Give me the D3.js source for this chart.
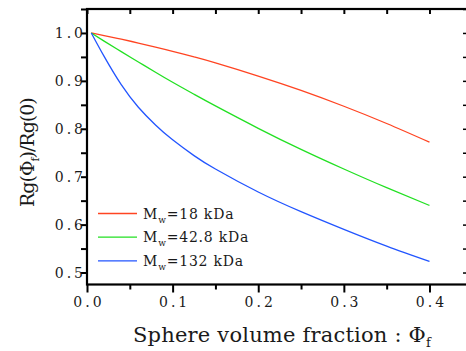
<!DOCTYPE html>
<html lang="en">
<head>
<meta charset="UTF-8">
<title>Rg ratio</title>
<style>
    body { margin: 0; background: #fff; }
    text { font-family: "DejaVu Serif", serif; fill: #1a1a1a; }
</style>
</head>
<body>
<div class="canvas"></div>
<script src="https://cdn.jsdelivr.net/npm/d3@7"></script>
<script>
    // values
    const phi = [0.005, 0.02, 0.04, 0.06, 0.08, 0.1, 0.125, 0.15, 0.2, 0.25, 0.3, 0.35, 0.4];
    const rg18 = [1.0, 0.9945, 0.987, 0.979, 0.9706, 0.9618, 0.950, 0.9375, 0.910, 0.880, 0.847, 0.811, 0.772];
    const rg42 = [1.0, 0.983, 0.961, 0.9395, 0.918, 0.897, 0.872, 0.8477, 0.801, 0.757, 0.716, 0.677, 0.640];
    const rg132 = [1.0, 0.951, 0.892, 0.845, 0.808, 0.777, 0.744, 0.716, 0.668, 0.627, 0.590, 0.555, 0.523];
    const seriesNames = ["18 kDa", "42.8 kDa", "132 kDa"];
    const seriesColors = ["#ff4422", "#22e022", "#2255ff"];
    const xTicks = [0, 0.1, 0.2, 0.3, 0.4];
    const yTicks = [0.5, 0.6, 0.7, 0.8, 0.9, 1.0];

    const W = 466, H = 351;
    const svg = d3.select('.canvas').append('svg')
        .attr('width', W).attr('height', H);

    const x = d3.scaleLinear().domain([0, 0.445]).range([87, 468]);
    const y = d3.scaleLinear().domain([0.475, 1.05]).range([284.5, 9]);

    const series = [rg18, rg42, rg132].map((vals, i) => ({
        name: seriesNames[i],
        color: seriesColors[i],
        pts: phi.map((p, j) => [p, vals[j]])
    }));

    const line = d3.line()
        .x(d => x(d[0]))
        .y(d => y(d[1]))
        .curve(d3.curveNatural);

    svg.selectAll('path.curve')
        .data(series)
        .enter().append('path')
        .attr('class', 'curve')
        .attr('d', d => line(d.pts))
        .attr('fill', 'none')
        .attr('stroke', d => d.color)
        .attr('stroke-width', 1.3);

    // minor + major ticks every 0.05
    const xMinor = d3.range(0, 0.4501, 0.05);
    const yMinor = d3.range(0.5, 1.0501, 0.05);

    const axB = svg.append('g').attr('transform', `translate(0,${y.range()[0]})`)
        .call(d3.axisBottom(x).tickValues(xMinor).tickSize(0).tickFormat(''));
    axB.select('.domain').remove();
    axB.selectAll('.tick line')
        .attr('y2', (d, i) => i % 2 === 0 ? 8 : 5)
        .attr('stroke', '#000').attr('stroke-width', 2);

    const axT = svg.append('g').attr('transform', `translate(0,${y.range()[1]})`)
        .call(d3.axisTop(x).tickValues(xMinor).tickSize(-5).tickFormat(''));
    axT.select('.domain').remove();
    axT.selectAll('.tick line').attr('stroke', '#000').attr('stroke-width', 2);

    const axL = svg.append('g').attr('transform', `translate(${x.range()[0]},0)`)
        .call(d3.axisLeft(y).tickValues(yMinor).tickSize(6).tickFormat(''));
    axL.select('.domain').remove();
    axL.selectAll('.tick line').attr('stroke', '#000').attr('stroke-width', 2);

    const axR = svg.append('g').attr('transform', `translate(${x.range()[1]},0)`)
        .call(d3.axisRight(y).tickValues(yMinor).tickSize(-5).tickFormat(''));
    axR.select('.domain').remove();
    axR.selectAll('.tick line').attr('stroke', '#000').attr('stroke-width', 1.5);

    // frame
    svg.append('rect')
        .attr('x', x.range()[0]).attr('y', y.range()[1])
        .attr('width', x.range()[1] - x.range()[0])
        .attr('height', y.range()[0] - y.range()[1])
        .attr('fill', 'none').attr('stroke', '#000').attr('stroke-width', 2.2);

    // tick labels
    svg.selectAll('text.xl').data(xTicks).enter().append('text')
        .attr('class', 'xl')
        .attr('x', d => x(d) + 2).attr('y', 306.5)
        .attr('text-anchor', 'middle')
        .attr('font-size', 14).attr('letter-spacing', 3)
        .text(d => d.toFixed(1));

    svg.selectAll('text.yl').data(yTicks).enter().append('text')
        .attr('class', 'yl')
        .attr('x', 86).attr('y', d => y(d) + 5.3)
        .attr('text-anchor', 'end')
        .attr('font-size', 14).attr('letter-spacing', 3)
        .text(d => d.toFixed(1));

    // axis titles
    const xt = svg.append('text')
        .attr('x', 133).attr('y', 342)
        .attr('font-size', 21).attr('letter-spacing', 0.2);
    xt.append('tspan').text('Sphere volume fraction : \u03A6');
    xt.append('tspan').attr('font-size', 13).attr('dy', 5).text('f');

    const yt = svg.append('text')
        .attr('transform', 'translate(34,207) rotate(-90)')
        .attr('font-size', 19).attr('letter-spacing', -1);
    yt.append('tspan').text('Rg(\u03A6');
    yt.append('tspan').attr('font-size', 11).attr('dy', 5).text('f');
    yt.append('tspan').attr('dy', -5).text(')/Rg(0)');

    // legend
    const legend = svg.append('g');
    const rows = legend.selectAll('g').data(series).enter().append('g')
        .attr('transform', (d, i) => `translate(98,${213.5 + i * 23.7})`);
    rows.append('line')
        .attr('x1', 0).attr('x2', 39)
        .attr('stroke', d => d.color).attr('stroke-width', 1.3);
    const lt = rows.append('text')
        .attr('x', 45).attr('y', 5)
        .attr('font-size', 14).attr('letter-spacing', 0.8);
    lt.append('tspan').text('M');
    lt.append('tspan').attr('font-size', 9).attr('dy', 4).text('w');
    lt.append('tspan').attr('dy', -4).text(d => '=' + d.name);
</script>
</body>
</html>
